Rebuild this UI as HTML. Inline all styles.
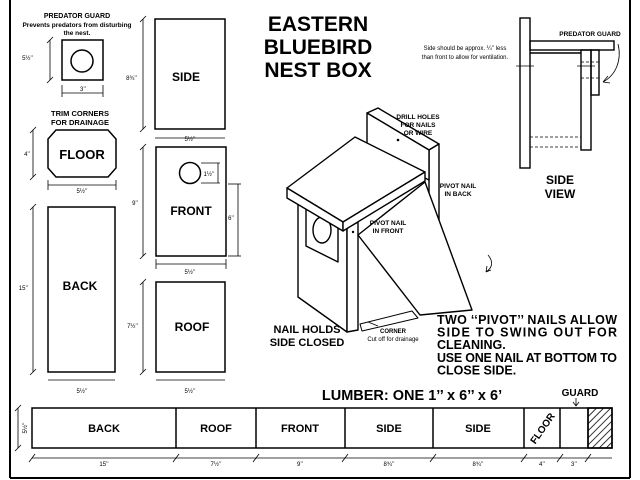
<!DOCTYPE html>
<html><head><meta charset="utf-8"><style>
html,body{margin:0;padding:0;background:#fff;}
svg{display:block;font-family:"Liberation Sans",Arial,sans-serif;}
.b{font-weight:bold;}
</style></head><body>
<svg width="640" height="480" viewBox="0 0 640 480" xmlns="http://www.w3.org/2000/svg">
<defs>
<pattern id="h" width="5" height="5" patternUnits="userSpaceOnUse" patternTransform="rotate(45)"><line x1="0" y1="0" x2="0" y2="5" stroke="#000" stroke-width="1.6"/></pattern>
</defs>
<g stroke="#000" fill="none">
<line x1="10" y1="0" x2="10" y2="478" stroke-width="2"/>
<line x1="630" y1="0" x2="630" y2="478" stroke-width="2"/>
<line x1="10" y1="478" x2="630" y2="478" stroke-width="2"/>

<g stroke-width="1.5">
<rect x="62" y="40" width="41" height="40"/>
<circle cx="82" cy="61" r="11"/>
<rect x="155" y="19" width="70" height="110"/>
<polygon points="56,130 108,130 116,139 116,168 108,177 56,177 48,168 48,139"/>
<rect x="156" y="147" width="70" height="109"/>
<circle cx="190" cy="173" r="10.5"/>
<rect x="48" y="207" width="67" height="165"/>
<rect x="156" y="282" width="69" height="90"/>
<rect x="32" y="408" width="580" height="40"/>
<line x1="176" y1="408" x2="176" y2="448"/>
<line x1="256" y1="408" x2="256" y2="448"/>
<line x1="345" y1="408" x2="345" y2="448"/>
<line x1="433" y1="408" x2="433" y2="448"/>
<line x1="524" y1="408" x2="524" y2="448"/>
<line x1="560" y1="408" x2="560" y2="448"/>
<line x1="588" y1="408" x2="588" y2="448"/>
</g>
<rect x="588" y="408" width="24" height="40" fill="url(#h)" stroke-width="1.5"/>

<g stroke-width="0.8">
<line x1="50" y1="40" x2="50" y2="80"/><line x1="47" y1="43" x2="53" y2="37"/><line x1="47" y1="83" x2="53" y2="77"/>
<line x1="62" y1="93" x2="103" y2="93"/><line x1="62" y1="85" x2="62" y2="97"/><line x1="103" y1="85" x2="103" y2="97"/>
<line x1="143" y1="19" x2="143" y2="129"/><line x1="140" y1="22" x2="146" y2="16"/><line x1="140" y1="132" x2="146" y2="126"/>
<line x1="155" y1="138" x2="225" y2="138"/>
<line x1="33" y1="130" x2="33" y2="177"/><line x1="30" y1="133" x2="36" y2="127"/><line x1="30" y1="180" x2="36" y2="174"/>
<line x1="48" y1="185" x2="116" y2="185"/><line x1="48" y1="180" x2="48" y2="190"/><line x1="116" y1="180" x2="116" y2="190"/>
<line x1="143" y1="147" x2="143" y2="256"/><line x1="140" y1="150" x2="146" y2="144"/><line x1="140" y1="259" x2="146" y2="253"/>
<line x1="218" y1="163" x2="218" y2="183"/><line x1="201" y1="163" x2="220" y2="163"/><line x1="201" y1="183" x2="220" y2="183"/>
<line x1="238" y1="184" x2="238" y2="256"/><line x1="228" y1="184" x2="241" y2="184"/><line x1="228" y1="256" x2="241" y2="256"/>
<line x1="156" y1="264" x2="226" y2="264"/><line x1="156" y1="259" x2="156" y2="269"/><line x1="226" y1="259" x2="226" y2="269"/>
<line x1="33" y1="207" x2="33" y2="372"/><line x1="30" y1="210" x2="36" y2="204"/><line x1="30" y1="375" x2="36" y2="369"/>
<line x1="48" y1="380" x2="115" y2="380"/>
<line x1="143" y1="282" x2="143" y2="372"/><line x1="140" y1="285" x2="146" y2="279"/><line x1="140" y1="375" x2="146" y2="369"/>
<line x1="156" y1="380" x2="225" y2="380"/>
<line x1="18" y1="408" x2="18" y2="448"/><line x1="15" y1="411" x2="21" y2="405"/><line x1="15" y1="451" x2="21" y2="445"/>
<line x1="32" y1="458" x2="612" y2="458"/>
<path d="M29,462 L35,454 M173,462 L179,454 M253,462 L259,454 M342,462 L348,454 M430,462 L436,454 M521,462 L527,454 M557,462 L563,454 M585,462 L591,454"/>
<path d="M576,398 L576,405 M573,402 L576,406 L579,402"/>
</g>

<g stroke-width="1.4">
<rect x="520" y="18" width="10" height="150"/>
<rect x="530" y="41" width="84" height="9"/>
<line x1="530" y1="53" x2="581" y2="53"/>
<rect x="581" y="50" width="10" height="100"/>
<rect x="591" y="50" width="8" height="45"/>
</g>
<g stroke-width="0.8" stroke-dasharray="3,2">
<line x1="581" y1="62" x2="599" y2="62"/><line x1="581" y1="78" x2="599" y2="78"/>
<line x1="530" y1="137" x2="581" y2="137"/><line x1="530" y1="147" x2="581" y2="147"/>
</g>
<g stroke-width="0.8"><line x1="516" y1="66" x2="534" y2="66"/><line x1="577" y1="66" x2="595" y2="66"/>
<path d="M618,44 C622,60 616,75 603,82 M603,82 L608,76 M603,82 L610,83"/></g>

<g stroke-width="1.4" stroke-linejoin="round">
<polygon points="367,113 378,108 439,144 429,150" fill="#fff"/>
<polygon points="429,150 439,144 439,270 429,276" fill="#fff"/>
<polygon points="367,113 429,150 429,180 367,150" fill="#fff"/>
<polygon points="298,203 347,228 347,332 298,297" fill="#fff"/>
<polygon points="347,228 358,222 358,330 347,332" fill="#fff"/>
<ellipse cx="322" cy="230" rx="9" ry="13"/>
<polygon points="306,206 338,222 338,262 306,246"/>
<polygon points="425,182 472,310 420,315 358,235" fill="#fff"/>
<polygon points="360,324 412,311 418,318 362,331" fill="#fff" stroke-width="1"/>
<polygon points="287,188 355,137 425,172 343,222" fill="#fff"/>
<polygon points="287,188 343,222 343,231 287,198" fill="#fff"/>
<polygon points="343,222 425,172 425,181 343,231" fill="#fff"/>
</g>
<g stroke-width="0.8"><path d="M488,255 C494,262 492,268 486,272 M486,272 L487,266 M486,272 L491,270"/>
<path d="M378,326 L368,322"/></g>
</g>
<circle cx="398" cy="140" r="1.3"/>
<circle cx="353" cy="232" r="1.2"/>

<g text-anchor="middle" class="b">
<text x="318" y="31" font-size="21">EASTERN</text>
<text x="318" y="54" font-size="21">BLUEBIRD</text>
<text x="318" y="77" font-size="21">NEST BOX</text>
<text x="77" y="18" font-size="7">PREDATOR GUARD</text>
<text x="77" y="27" font-size="6.5">Prevents predators from disturbing</text>
<text x="77" y="35" font-size="6.5">the nest.</text>
<text x="80" y="116" font-size="7.5">TRIM CORNERS</text>
<text x="80" y="125" font-size="7.5">FOR DRAINAGE</text>
<text x="186" y="81" font-size="12">SIDE</text>
<text x="82" y="159" font-size="13">FLOOR</text>
<text x="191" y="215" font-size="12">FRONT</text>
<text x="80" y="290" font-size="12">BACK</text>
<text x="192" y="331" font-size="12">ROOF</text>
<text x="104" y="432" font-size="11">BACK</text>
<text x="216" y="432" font-size="11">ROOF</text>
<text x="300" y="432" font-size="11">FRONT</text>
<text x="389" y="432" font-size="11">SIDE</text>
<text x="478" y="432" font-size="11">SIDE</text>
<text x="542" y="432" font-size="10" transform="rotate(-55 542 428)">FLOOR</text>
<text x="412" y="400" font-size="14.5">LUMBER: ONE 1’’ x 6’’ x 6’</text>
<text x="580" y="396" font-size="10">GUARD</text>
<text x="560" y="184" font-size="12">SIDE</text>
<text x="560" y="198" font-size="12">VIEW</text>
<text x="590" y="36" font-size="6.5">PREDATOR GUARD</text>
<text x="418" y="119" font-size="6.5">DRILL HOLES</text>
<text x="418" y="127" font-size="6.5">FOR NAILS</text>
<text x="418" y="135" font-size="6.5">OR WIRE</text>
<text x="458" y="188" font-size="6.5">PIVOT NAIL</text>
<text x="458" y="196" font-size="6.5">IN BACK</text>
<text x="388" y="225" font-size="6.5">PIVOT NAIL</text>
<text x="388" y="233" font-size="6.5">IN FRONT</text>
<text x="307" y="333" font-size="11">NAIL HOLDS</text>
<text x="307" y="346" font-size="11">SIDE CLOSED</text>
<text x="393" y="333" font-size="6">CORNER</text>
</g>
<g text-anchor="middle" font-size="6">
<text x="393" y="341">Cut off for drainage</text>
<text x="465" y="50">Side should be approx. ¼’’ less</text>
<text x="465" y="59">than front to allow for ventilation.</text>
</g>
<g font-size="6" text-anchor="middle">
<text x="33" y="60" text-anchor="end">5½’’</text>
<text x="83" y="91">3’’</text>
<text x="137" y="80" text-anchor="end">8¾’’</text>
<text x="190" y="141">5½’’</text>
<text x="30" y="156" text-anchor="end">4’’</text>
<text x="82" y="193">5½’’</text>
<text x="138" y="205" text-anchor="end">9’’</text>
<text x="209" y="176">1½’’</text>
<text x="234" y="220" text-anchor="end">6’’</text>
<text x="190" y="274">5½’’</text>
<text x="28" y="290" text-anchor="end">15’’</text>
<text x="82" y="393">5½’’</text>
<text x="138" y="328" text-anchor="end">7½’’</text>
<text x="190" y="393">5½’’</text>
<text x="104" y="466">15’’</text>
<text x="216" y="466">7½’’</text>
<text x="300" y="466">9’’</text>
<text x="389" y="466">8¾’’</text>
<text x="478" y="466">8¾’’</text>
<text x="542" y="466">4’’</text>
<text x="574" y="466">3’’</text>
<text x="25" y="430" transform="rotate(-90 25 428)">5½’’</text>
</g>
<g class="b" font-size="12.5">
<text x="437" y="324" textLength="180" lengthAdjust="spacing">TWO ‘‘PIVOT’’ NAILS ALLOW</text>
<text x="437" y="336.5" textLength="180" lengthAdjust="spacing">SIDE TO SWING OUT FOR</text>
<text x="437" y="349">CLEANING.</text>
<text x="437" y="362" textLength="180" lengthAdjust="spacing">USE ONE NAIL AT BOTTOM TO</text>
<text x="437" y="374.5">CLOSE SIDE.</text>
</g>
</svg>
</body></html>
